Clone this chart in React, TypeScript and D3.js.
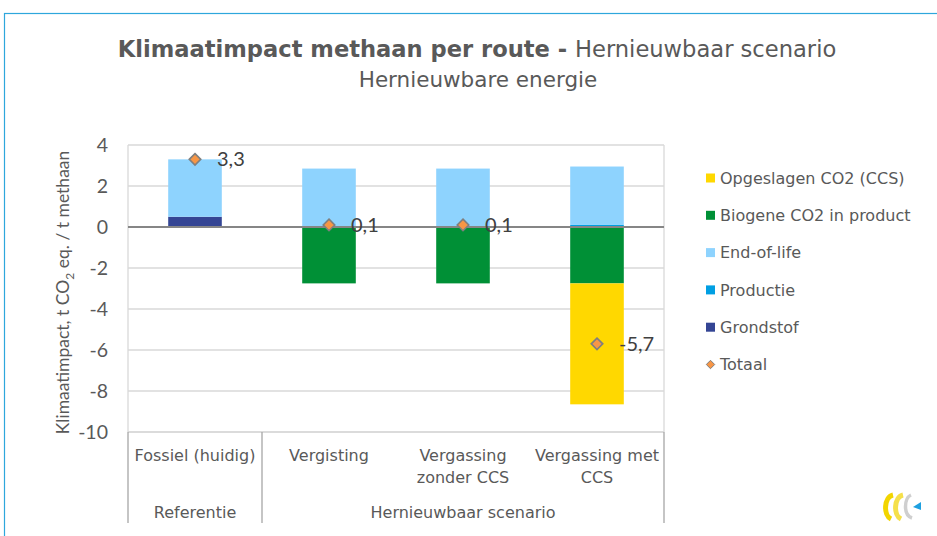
import React, { useRef, useEffect } from "react";
import * as d3 from "d3";

// categories (x axis) and their wrapped label lines
const categories = ["Fossiel (huidig)", "Vergisting", "Vergassing zonder CCS", "Vergassing met CCS"];
const categoryLines = [["Fossiel (huidig)"], ["Vergisting"], ["Vergassing", "zonder CCS"], ["Vergassing met", "CCS"]];
const groupNames = ["Referentie", "Hernieuwbaar scenario"];
const groupSpans = [1, 3];

// stacked series, t CO2 eq. / t methaan
const grondstof = [0.5, 0, 0, 0];
const productie = [0, 0, 0, 0.1];
const endOfLife = [2.8, 2.85, 2.85, 2.85];
const biogene = [0, -2.75, -2.75, -2.75];
const opgeslagen = [0, 0, 0, -5.9];
const totaal = [3.3, 0.1, 0.1, -5.7];
const totaalLabels = ["3,3", "0,1", "0,1", "-5,7"];

const yTicks = [4, 2, 0, -2, -4, -6, -8, -10];

const seriesKeys = ["Grondstof", "Productie", "End-of-life", "Biogene CO2 in product", "Opgeslagen CO2 (CCS)"];
const seriesValues = [grondstof, productie, endOfLife, biogene, opgeslagen];
const seriesColors = ["#344594", "#009fe3", "#8ed3fe", "#009036", "#ffd800"];

const App = () => {
  const svgRef = useRef(null);

  useEffect(() => {
    const svg = d3.select(svgRef.current);
    svg.selectAll("*").remove();

    const left = 128, right = 664, top = 145, bottom = 432;
    const tickFont = "Lato, 'Open Sans', sans-serif";
    const textFont = "'DejaVu Sans', sans-serif";

    // outer chart border
    svg.append("rect")
      .attr("x", 4.5).attr("y", 13.5)
      .attr("width", 960).attr("height", 560)
      .attr("fill", "white")
      .attr("stroke", "#2ea7dc").attr("stroke-width", 1.2);

    // titles
    const title = svg.append("text")
      .attr("x", 477).attr("y", 57)
      .attr("text-anchor", "middle")
      .attr("font-family", textFont)
      .attr("font-size", 22.6)
      .attr("fill", "#595959");
    title.append("tspan").attr("font-weight", "bold").text("Klimaatimpact methaan per route - ");
    title.append("tspan").text("Hernieuwbaar scenario");
    svg.append("text")
      .attr("x", 478).attr("y", 87)
      .attr("text-anchor", "middle")
      .attr("font-family", textFont)
      .attr("font-size", 21.5)
      .attr("fill", "#595959")
      .text("Hernieuwbare energie");

    const x = d3.scaleBand().domain(categories).range([left, right]).paddingInner(0.6).paddingOuter(0.3);
    const y = d3.scaleLinear().domain([-10, 4]).range([bottom, top]);

    // gridlines and plot frame
    svg.append("g")
      .selectAll("line")
      .data(yTicks)
      .join("line")
      .attr("x1", left).attr("x2", right)
      .attr("y1", (d) => y(d)).attr("y2", (d) => y(d))
      .attr("stroke", "#d9d9d9").attr("stroke-width", 1.3);
    svg.append("line")
      .attr("x1", right).attr("x2", right).attr("y1", top).attr("y2", bottom)
      .attr("stroke", "#d9d9d9").attr("stroke-width", 1.3);
    svg.append("line")
      .attr("x1", left).attr("x2", left).attr("y1", top).attr("y2", bottom)
      .attr("stroke", "#d9d9d9").attr("stroke-width", 1.3);

    // y tick labels
    svg.append("g")
      .selectAll("text")
      .data(yTicks)
      .join("text")
      .attr("x", 108).attr("y", (d) => y(d))
      .attr("dy", "0.35em")
      .attr("text-anchor", "end")
      .attr("font-family", tickFont)
      .attr("font-size", 19.5)
      .attr("fill", "#595959")
      .text((d) => d);

    // y axis title
    const yt = svg.append("text")
      .attr("transform", `translate(69,${(top + bottom) / 2 + 4}) rotate(-90)`)
      .attr("text-anchor", "middle")
      .attr("font-family", tickFont)
      .attr("font-size", 17.5)
      .attr("fill", "#595959");
    yt.append("tspan").text("Klimaatimpact, t CO");
    yt.append("tspan").attr("font-size", 12).attr("dy", 5).text("2");
    yt.append("tspan").attr("dy", -5).text(" eq. / t methaan");

    // stacked bars
    const table = categories.map((c, i) => {
      const row = { category: c };
      seriesKeys.forEach((k, j) => (row[k] = seriesValues[j][i]));
      return row;
    });
    const stacked = d3.stack().keys(seriesKeys).offset(d3.stackOffsetDiverging)(table);
    svg.append("g")
      .selectAll("g")
      .data(stacked)
      .join("g")
      .attr("fill", (d, i) => seriesColors[i])
      .selectAll("rect")
      .data((d) => d)
      .join("rect")
      .attr("x", (d) => x(d.data.category))
      .attr("width", x.bandwidth())
      .attr("y", (d) => y(Math.max(d[0], d[1])))
      .attr("height", (d) => Math.abs(y(d[0]) - y(d[1])));

    // zero line
    svg.append("line")
      .attr("x1", left).attr("x2", right).attr("y1", y(0)).attr("y2", y(0))
      .attr("stroke", "#868686").attr("stroke-width", 2);

    // totaal markers
    const diamond = d3.symbol().type(d3.symbolDiamond2).size(85);
    svg.append("g")
      .selectAll("path")
      .data(totaal)
      .join("path")
      .attr("d", diamond)
      .attr("transform", (d, i) => `translate(${x(categories[i]) + x.bandwidth() / 2},${y(d)})`)
      .attr("fill", "#f79646")
      .attr("stroke", "#7f7f7f").attr("stroke-width", 1.6);
    svg.append("g")
      .selectAll("text")
      .data(totaal)
      .join("text")
      .attr("x", (d, i) => x(categories[i]) + x.bandwidth() / 2 + 22)
      .attr("y", (d) => y(d))
      .attr("dy", "0.35em")
      .attr("font-family", tickFont)
      .attr("font-size", 20)
      .attr("fill", "#404040")
      .text((d, i) => totaalLabels[i]);

    // category axis
    const step = x.step();
    svg.append("line")
      .attr("x1", left).attr("x2", right).attr("y1", bottom).attr("y2", bottom)
      .attr("stroke", "#d9d9d9").attr("stroke-width", 1.3);
    let acc = 0;
    const bounds = [0];
    groupSpans.forEach((s) => { acc += s; bounds.push(acc); });
    svg.append("g")
      .selectAll("line")
      .data(bounds)
      .join("line")
      .attr("x1", (d) => left + d * step).attr("x2", (d) => left + d * step)
      .attr("y1", bottom).attr("y2", 523)
      .attr("stroke", "#a6a6a6").attr("stroke-width", 1.3);
    const catG = svg.append("g")
      .attr("font-family", textFont)
      .attr("font-size", 16)
      .attr("fill", "#595959")
      .attr("text-anchor", "middle");
    categoryLines.forEach((lines, i) => {
      lines.forEach((l, j) => {
        catG.append("text")
          .attr("x", x(categories[i]) + x.bandwidth() / 2)
          .attr("y", 461 + j * 22)
          .text(l);
      });
    });
    groupNames.forEach((g, i) => {
      catG.append("text")
        .attr("x", left + ((bounds[i] + bounds[i + 1]) / 2) * step)
        .attr("y", 518)
        .text(g);
    });

    // legend
    const legendItems = [4, 3, 2, 1, 0].map((j) => ({ name: seriesKeys[j], color: seriesColors[j] }));
    const lg = svg.append("g").attr("font-family", textFont).attr("font-size", 16).attr("fill", "#595959");
    legendItems.forEach((it, i) => {
      const ly = 178 + i * 37.3;
      lg.append("rect").attr("x", 706).attr("y", ly - 4.5).attr("width", 9).attr("height", 9).attr("fill", it.color);
      lg.append("text").attr("x", 720).attr("y", ly).attr("dy", "0.35em").text(it.name);
    });
    const ly6 = 178 + 5 * 37.3;
    lg.append("path")
      .attr("d", d3.symbol().type(d3.symbolDiamond2).size(45))
      .attr("transform", `translate(710.5,${ly6})`)
      .attr("fill", "#f79646").attr("stroke", "#7f7f7f").attr("stroke-width", 1);
    lg.append("text").attr("x", 720).attr("y", ly6).attr("dy", "0.35em").text("Totaal");

    // small logo
    const logo = svg.append("g").attr("transform", "translate(882,492)").attr("fill", "none");
    logo.append("path").attr("d", "M11,3 C2,5 1,23 9,27").attr("stroke", "#f2d500").attr("stroke-width", 5);
    logo.append("path").attr("d", "M21,3 C12,5 11,23 19,27").attr("stroke", "#f5e04a").attr("stroke-width", 5);
    logo.append("path").attr("d", "M29,3 C22,6 21,23 30,26").attr("stroke", "#cfcfcf").attr("stroke-width", 3.5);
    logo.append("path").attr("d", "M31,15 L39,10 L39,18 Z").attr("fill", "#1ea0e0");
  }, []);

  return (
    <svg ref={svgRef} width="937" height="536" style={{ position: "absolute", left: 0, top: 0 }} />
  );
};

export default App;
